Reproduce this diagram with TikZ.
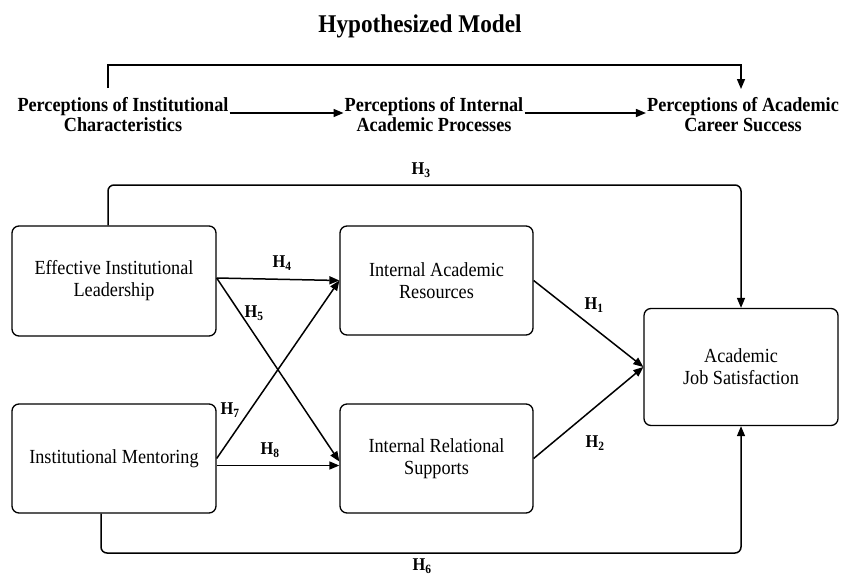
\documentclass[tikz,border=0pt]{standalone}
\usepackage{fontspec}
\setmainfont[FakeStretch=0.91]{Liberation Serif}
\usetikzlibrary{arrows.meta}
\begin{document}
\begin{tikzpicture}[x=1pt,y=-1pt,
  box/.style={draw,line width=1.3pt,rounded corners=7pt,align=center,
    font=\fontsize{20}{22}\selectfont,inner sep=0pt},
  conn/.style={line width=1.5pt,-{Triangle[length=10pt,width=8pt]}},
  hlab/.style={font=\fontsize{18}{20}\selectfont\bfseries,inner sep=0pt},
  plab/.style={font=\fontsize{20}{20}\selectfont\bfseries,align=center,inner sep=1pt}]
\useasboundingbox (0,0) rectangle (845,576);
\node[font=\fontsize{25.5}{28}\selectfont\bfseries,anchor=base] (title) at (420,32) {Hypothesized Model};
\node[plab] (p1) at (123,115) {Perceptions of Institutional\\Characteristics};
\node[plab] (p2) at (434,115) {Perceptions of Internal\\Academic Processes};
\node[plab] (p3) at (743,115) {Perceptions of Academic\\Career Success};
\coordinate (ls) at (108,88);
\coordinate (tl) at (108,65);
\coordinate (rs) at (741,89);
\draw[conn] (ls) -- (tl) -| (rs);
\draw[conn] ([yshift=2pt]p1.east) -- ([yshift=2pt]p2.west);
\draw[conn] ([yshift=2pt]p2.east) -- ([yshift=2pt]p3.west);

\coordinate (h3y) at (0,185);
\coordinate (h6y) at (0,553);

\node[box,minimum width=204pt,minimum height=110pt] (eil) at (114,281) {Effective Institutional\\Leadership};
\node[box,minimum width=204pt,minimum height=109pt] (im) at (114,458.5) {Institutional Mentoring};
\node[box,minimum width=193pt,minimum height=109pt] (iar) at (436.5,280.5) {Internal Academic\\Resources};
\node[box,minimum width=193pt,minimum height=109pt] (irs) at (436.5,458.5) {Internal Relational\\Supports};
\node[box,minimum width=194pt,minimum height=117pt] (js) at (741,367) {Academic\\Job Satisfaction};

\draw[conn] ([yshift=3pt]eil.east) -- (iar.west);
\draw[conn] ([yshift=3pt]eil.east) -- ([yshift=-3pt]irs.west);
\draw[conn] (im.east) -- (iar.west);
\draw[conn] ([yshift=-7pt]im.east) -- ([yshift=-7pt]irs.west);
\draw[conn] (iar.east) -- (js.west);
\draw[conn] (irs.east) -- (js.west);
\draw[conn,rounded corners=6pt] ([xshift=-6pt]eil.north) -- ([xshift=-6pt]eil.north |- h3y) -| (js.north);
\draw[conn,rounded corners=6pt] ([xshift=-13pt]im.south) -- ([xshift=-13pt]im.south |- h6y) -| (js.south);

\node[hlab] (h1) at (594,305) {H\textsubscript{1}};
\node[hlab] (h2) at (595,443) {H\textsubscript{2}};
\node[hlab] (h3) at (421,170) {H\textsubscript{3}};
\node[hlab] (h4) at (282,263) {H\textsubscript{4}};
\node[hlab] (h5) at (254,313) {H\textsubscript{5}};
\node[hlab] (h6) at (422,566) {H\textsubscript{6}};
\node[hlab] (h7) at (230,410) {H\textsubscript{7}};
\node[hlab] (h8) at (270,450) {H\textsubscript{8}};
\end{tikzpicture}
\end{document}
